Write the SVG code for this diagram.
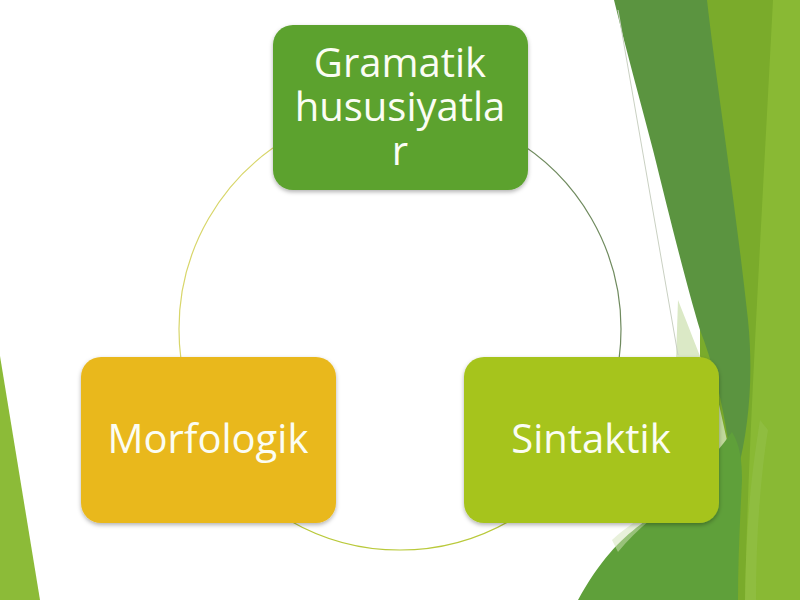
<svg xmlns="http://www.w3.org/2000/svg" width="800" height="600" viewBox="0 0 800 600">
<defs>
<style>
.lbl{font-family:"Open Sans","Noto Sans","Liberation Sans",sans-serif;font-size:40px;fill:#fbfdf4;text-anchor:middle}
.arc{fill:none;stroke-width:1.2}
</style>
<filter id="sh" x="-10%" y="-10%" width="120%" height="130%">
<feDropShadow dx="0" dy="2" stdDeviation="2" flood-color="#000" flood-opacity="0.3"/>
</filter>
</defs>
<rect width="800" height="600" fill="#ffffff"/>
<g id="background">
<path d="M0,356 L40,600 L0,600 Z" fill="#8cbb38"/>
<path d="M700,0 L800,0 L800,600 L700,600 Z" fill="#7aab2b"/>
<path d="M773,0 L800,0 L800,600 L745,600 C748,450 760,250 773,0 Z" fill="#89b934"/>
<path d="M745,600 C746,520 752,470 760,420 L768,430 C760,480 756,540 756,600 Z" fill="#98c452" opacity="0.4"/>
<path d="M614,0 L707,0 C716,80 735,200 748,320 C754,380 748,430 738,470 L728,440 C722,400 712,360 700,330 C685,280 668,210 653,150 C640,100 626,50 614,0 Z" fill="#5b9440"/>
<path d="M678,300 C690,330 705,370 718,400 L728,445 L700,470 C690,440 680,400 676,360 Z" fill="#d2e4b8" opacity="0.8"/>
<path d="M578,600 C600,560 620,540 640,525 C670,500 705,470 732,432 C740,445 742,460 742,480 C740,520 738,560 738,600 Z" fill="#5fa03a"/>
<path d="M612,540 C625,528 635,522 645,515 L650,520 C638,530 628,540 618,552 Z" fill="#d2e4b8" opacity="0.5"/>
<line x1="618" y1="10" x2="678" y2="355" stroke="#c9d0c2" stroke-width="1"/>
</g>
<g id="connectors">
<path class="arc" d="M400,108 A221,221 0 0 1 591.4,439.5" stroke="#6f8a5e"/>
<path class="arc" d="M591.4,439.5 A221,221 0 0 1 208.6,439.5" stroke="#b9c93a"/>
<path class="arc" d="M208.6,439.5 A221,221 0 0 1 400,108" stroke="#d8d66a"/>
</g>
<g id="node-gramatik">
<rect x="273" y="25" width="255" height="165" rx="20" fill="#5ca22e" filter="url(#sh)"/>
<text class="lbl" x="400" y="77">Gramatik</text>
<text class="lbl" x="400" y="121">hususiyatla</text>
<text class="lbl" x="400" y="165">r</text>
</g>
<g id="node-morfologik">
<rect x="81" y="357" width="255" height="166" rx="20" fill="#e9b81f" filter="url(#sh)"/>
<text class="lbl" x="208" y="453">Morfologik</text>
</g>
<g id="node-sintaktik">
<rect x="464" y="357" width="255" height="166" rx="20" fill="#a6c41e" filter="url(#sh)"/>
<text class="lbl" x="591" y="453">Sintaktik</text>
</g>
</svg>
